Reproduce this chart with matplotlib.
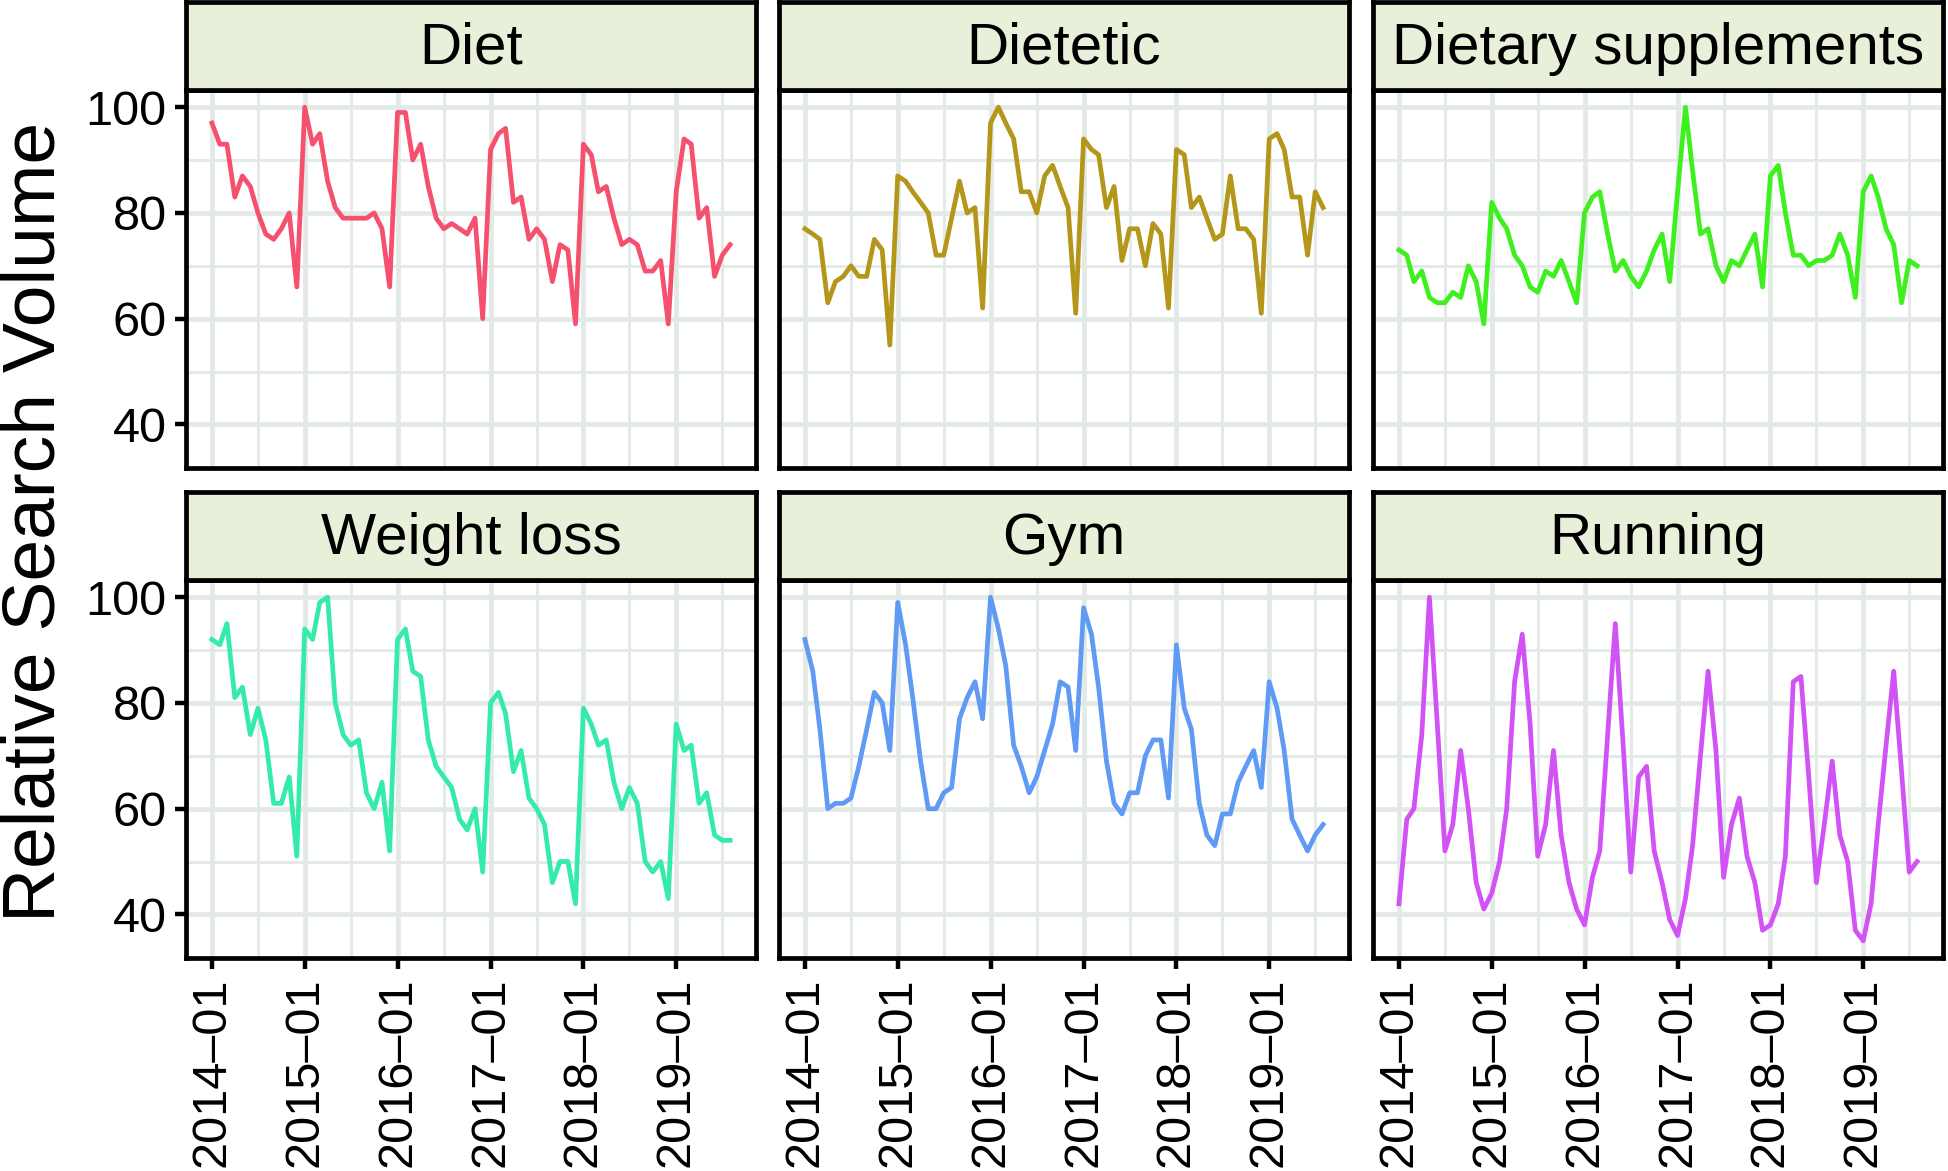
import numpy as np
import pandas as pd
import matplotlib
matplotlib.use('Agg')
import matplotlib.pyplot as plt
import matplotlib.dates as mdates

plt.rcParams['font.family'] = ['Liberation Sans', 'DejaVu Sans']

# monthly relative search volume, 2014-01 .. 2019-08
diet = [97, 93, 93, 83, 87, 85, 80, 76, 75, 77, 80, 66,
        100, 93, 95, 86, 81, 79, 79, 79, 79, 80, 77, 66,
        99, 99, 90, 93, 85, 79, 77, 78, 77, 76, 79, 60,
        92, 95, 96, 82, 83, 75, 77, 75, 67, 74, 73, 59,
        93, 91, 84, 85, 79, 74, 75, 74, 69, 69, 71, 59,
        84, 94, 93, 79, 81, 68, 72, 74]
dietetic = [77, 76, 75, 63, 67, 68, 70, 68, 68, 75, 73, 55,
            87, 86, 84, 82, 80, 72, 72, 79, 86, 80, 81, 62,
            97, 100, 97, 94, 84, 84, 80, 87, 89, 85, 81, 61,
            94, 92, 91, 81, 85, 71, 77, 77, 70, 78, 76, 62,
            92, 91, 81, 83, 79, 75, 76, 87, 77, 77, 75, 61,
            94, 95, 92, 83, 83, 72, 84, 81]
supplements = [73, 72, 67, 69, 64, 63, 63, 65, 64, 70, 67, 59,
               82, 79, 77, 72, 70, 66, 65, 69, 68, 71, 67, 63,
               80, 83, 84, 76, 69, 71, 68, 66, 69, 73, 76, 67,
               84, 100, 88, 76, 77, 70, 67, 71, 70, 73, 76, 66,
               87, 89, 80, 72, 72, 70, 71, 71, 72, 76, 72, 64,
               84, 87, 83, 77, 74, 63, 71, 70]
weight_loss = [92, 91, 95, 81, 83, 74, 79, 73, 61, 61, 66, 51,
               94, 92, 99, 100, 80, 74, 72, 73, 63, 60, 65, 52,
               92, 94, 86, 85, 73, 68, 66, 64, 58, 56, 60, 48,
               80, 82, 78, 67, 71, 62, 60, 57, 46, 50, 50, 42,
               79, 76, 72, 73, 65, 60, 64, 61, 50, 48, 50, 43,
               76, 71, 72, 61, 63, 55, 54, 54]
gym = [92, 86, 75, 60, 61, 61, 62, 68, 75, 82, 80, 71,
       99, 91, 81, 69, 60, 60, 63, 64, 77, 81, 84, 77,
       100, 94, 87, 72, 68, 63, 66, 71, 76, 84, 83, 71,
       98, 93, 83, 69, 61, 59, 63, 63, 70, 73, 73, 62,
       91, 79, 75, 61, 55, 53, 59, 59, 65, 68, 71, 64,
       84, 79, 71, 58, 55, 52, 55, 57]
running = [42, 58, 60, 74, 100, 76, 52, 57, 71, 60, 46, 41,
           44, 50, 60, 84, 93, 76, 51, 57, 71, 55, 46, 41,
           38, 47, 52, 74, 95, 72, 48, 66, 68, 52, 46, 39,
           36, 43, 53, 70, 86, 71, 47, 57, 62, 51, 46, 37,
           38, 42, 51, 84, 85, 66, 46, 57, 69, 55, 50, 37,
           35, 42, 57, 72, 86, 67, 48, 50]

titles = ['Diet', 'Dietetic', 'Dietary supplements', 'Weight loss', 'Gym', 'Running']
series = [diet, dietetic, supplements, weight_loss, gym, running]
colors = ['#F5506E', '#B4961A', '#3EF01E', '#34EBAA', '#5F9BF5', '#D152F5']

months = pd.date_range('2014-01-01', periods=len(diet), freq='MS')

W, H = 1948, 1171
fig = plt.figure(figsize=(W / 100, H / 100), dpi=100)

col_left = [186, 779, 1373]
pw = 570
strip_top = [2, 492]
strip_h = 88
plot_bottom = [468, 958]

grid_col = '#E3EAE6'

# shared scales (ggplot style 5% expansion)
ymin = min(min(s) for s in series)
ymax = max(max(s) for s in series)
yexp = (ymax - ymin) * 0.05
x0 = mdates.date2num(months[0])
x1 = mdates.date2num(months[-1])
xexp = (x1 - x0) * 0.05

for k, (name, vals, col) in enumerate(zip(titles, series, colors)):
    r, c = divmod(k, 3)
    left = col_left[c]
    top = strip_top[r] + strip_h
    bottom = plot_bottom[r]
    ax = fig.add_axes([left / W, 1 - bottom / H, pw / W, (bottom - top) / H])
    sax = fig.add_axes([left / W, 1 - top / H, pw / W, strip_h / H])

    ax.plot(months, vals, color=col, lw=3.4, zorder=3)
    ax.set_xlim(x0 - xexp, x1 + xexp)
    ax.set_ylim(ymin - yexp, ymax + yexp)

    ax.set_yticks([40, 60, 80, 100])
    ax.set_yticks([50, 70, 90], minor=True)
    ax.xaxis.set_major_locator(mdates.MonthLocator(bymonth=1))
    ax.xaxis.set_minor_locator(mdates.MonthLocator(bymonth=7))
    ax.xaxis.set_major_formatter(mdates.DateFormatter('%Y\u2013%m'))

    ax.grid(which='major', color=grid_col, lw=3.4, zorder=0)
    ax.grid(which='minor', color=grid_col, lw=2.1, zorder=0)
    ax.set_axisbelow(True)

    for sp in ax.spines.values():
        sp.set_linewidth(3.4)
        sp.set_color('black')

    ax.tick_params(which='minor', length=0)
    ax.tick_params(which='major', length=8, width=3.2, color='black',
                   labelsize=35, pad=6)
    ax.tick_params(axis='x', labelrotation=90)

    if c != 0:
        ax.tick_params(axis='y', length=0, labelleft=False)
    if r == 0:
        ax.tick_params(axis='x', length=0, labelbottom=False)

    sax.set_facecolor('#E9F0D9')
    sax.set_xticks([])
    sax.set_yticks([])
    for sp in sax.spines.values():
        sp.set_linewidth(3.4)
        sp.set_color('black')
    sax.text(0.5, 0.47, name, ha='center', va='center', fontsize=42,
             transform=sax.transAxes)

fig.text(0.5 / W, 1 - 522 / H, 'Relative Search Volume', rotation=90,
         ha='left', va='center', fontsize=54)

fig.savefig('out.png', dpi=100)
